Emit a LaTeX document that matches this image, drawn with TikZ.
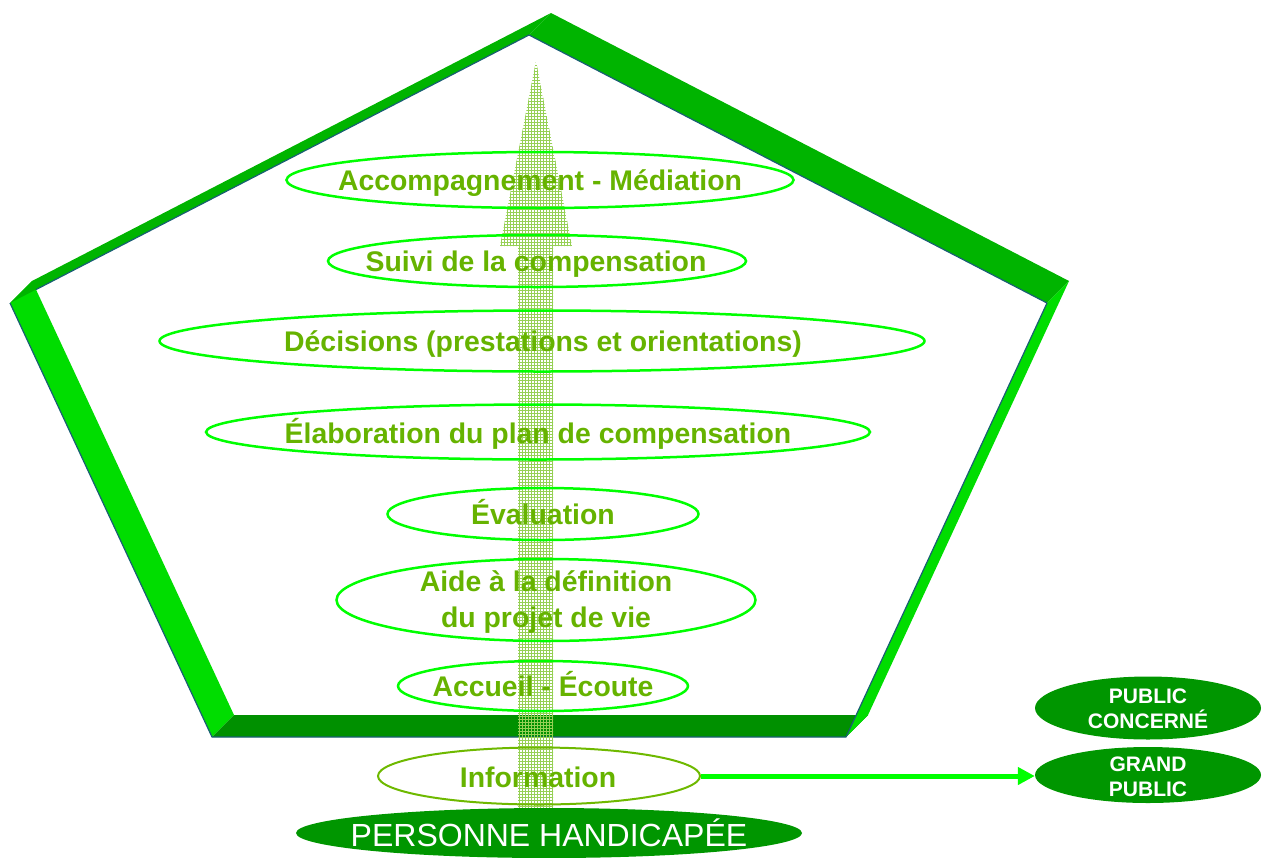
\documentclass[tikz,border=0pt]{standalone}
\usepackage{fontspec}
\setmainfont{Liberation Sans}
\usetikzlibrary{shapes.geometric,arrows.meta,patterns,calc}
\definecolor{faceTop}{RGB}{0,180,0}
\definecolor{faceSide}{RGB}{0,221,0}
\definecolor{faceBase}{RGB}{0,144,0}
\definecolor{edgeLine}{RGB}{25,95,115}
\definecolor{ringGreen}{RGB}{0,255,0}
\definecolor{stepText}{RGB}{102,179,0}
\definecolor{infoRing}{RGB}{110,185,0}
\definecolor{groupFill}{RGB}{0,150,0}
\definecolor{gridGreen}{RGB}{150,208,85}
\begin{document}
\begin{tikzpicture}[x=1pt,y=-1pt,
  ring/.style={ellipse, draw=ringGreen, line width=2.5pt, inner sep=0pt},
  steptext/.style={text=stepText, font=\bfseries\fontsize{28.4}{36}\selectfont, inner sep=0pt, align=center},
  group/.style={ellipse, fill=groupFill, inner sep=0pt},
  grouptext/.style={text=white, font=\bfseries\fontsize{21}{25}\selectfont, align=center, inner sep=0pt},
]
\useasboundingbox (0,0) rectangle (1265,857);

% front pentagon and its shifted copy
\coordinate (T) at (529,35);
\coordinate (L) at (10,303);
\coordinate (BL) at (212,737);
\coordinate (BR) at (846,737);
\coordinate (R) at (1047,303);
\foreach \p in {T,L,BL,BR,R} { \coordinate (\p s) at ($(\p)+(22,-22)$); }

% faces of the open pentagonal frame
\fill[faceSide] (L) -- (BL) -- (BLs) -- (Ls) -- cycle;
\fill[faceBase] (BL) -- (BR) -- (BRs) -- (BLs) -- cycle;
\fill[faceTop] (L) -- (T) -- (Ts) -- (Ls) -- cycle;
\fill[faceTop] (T) -- (R) -- (Rs) -- (Ts) -- cycle;
\fill[faceSide] (R) -- (BR) -- (BRs) -- (Rs) -- cycle;
\coordinate (Lcut) at ($(L)!0.05!(T)$);
\draw[edgeLine, line width=1.2pt, line join=round]
  (Lcut) -- (T) -- (R) -- (BR) -- (BL) -- (L);

% hatched upward arrow
\fill[pattern=grid, pattern color=gridGreen]
  (518,810) -- (518,246) -- (500,246) -- (536,61) -- (572,246)
  -- (553,246) -- (553,810) -- cycle;

% steps
\node[ring, minimum width=507pt, minimum height=56pt] (acc) at (540,180) {};
\node[steptext, anchor=base] (accT) at (540,190) {Accompagnement - Médiation};

\node[ring, minimum width=418pt, minimum height=52pt] (suivi) at (537,261) {};
\node[steptext, anchor=base] (suiviT) at (536,271) {Suivi de la compensation};

\node[ring, minimum width=765pt, minimum height=61pt] (deci) at (542,341) {};
\node[steptext, anchor=base] (deciT) at (543,351) {Décisions (prestations et orientations)};

\node[ring, minimum width=664pt, minimum height=55pt] (elab) at (538,432) {};
\node[steptext, anchor=base] (elabT) at (538,443) {Élaboration du plan de compensation};

\node[ring, minimum width=311pt, minimum height=52pt] (eval) at (543,514) {};
\node[steptext, anchor=base] (evalT) at (543,524) {Évaluation};

\node[ring, minimum width=419pt, minimum height=82pt] (aide) at (546,600) {};
\node[steptext] (aideT) at (546,602) {Aide à la définition\\du projet de vie};

\node[ring, minimum width=290pt, minimum height=50pt] (accueil) at (543,686) {};
\node[steptext, anchor=base] (accueilT) at (543,696) {Accueil - Écoute};

\node[ring, draw=infoRing, line width=2pt, minimum width=322pt, minimum height=57pt] (info) at (539,776) {};
\node[steptext, anchor=base] (infoT) at (538,787) {Information};

% groups
\node[group, minimum width=506pt, minimum height=50pt] (pers) at (549,833) {};
\node[text=white, font=\fontsize{32}{38}\selectfont, inner sep=0pt, anchor=base] (persT) at (549,846) {PERSONNE HANDICAPÉE};

\node[group, minimum width=226pt, minimum height=63pt] (pubc) at (1148,708) {};
\node[grouptext] (pubcT) at (1148,708.5) {PUBLIC\\CONCERNÉ};

\node[group, minimum width=226pt, minimum height=56pt] (grand) at (1148,775) {};
\node[grouptext] (grandT) at (1148,776.5) {GRAND\\PUBLIC};

\draw[ringGreen, line width=5pt, -{Triangle[length=17pt,width=17pt]}]
  (info.east) -- (info.east -| grand.west);
\end{tikzpicture}
\end{document}
